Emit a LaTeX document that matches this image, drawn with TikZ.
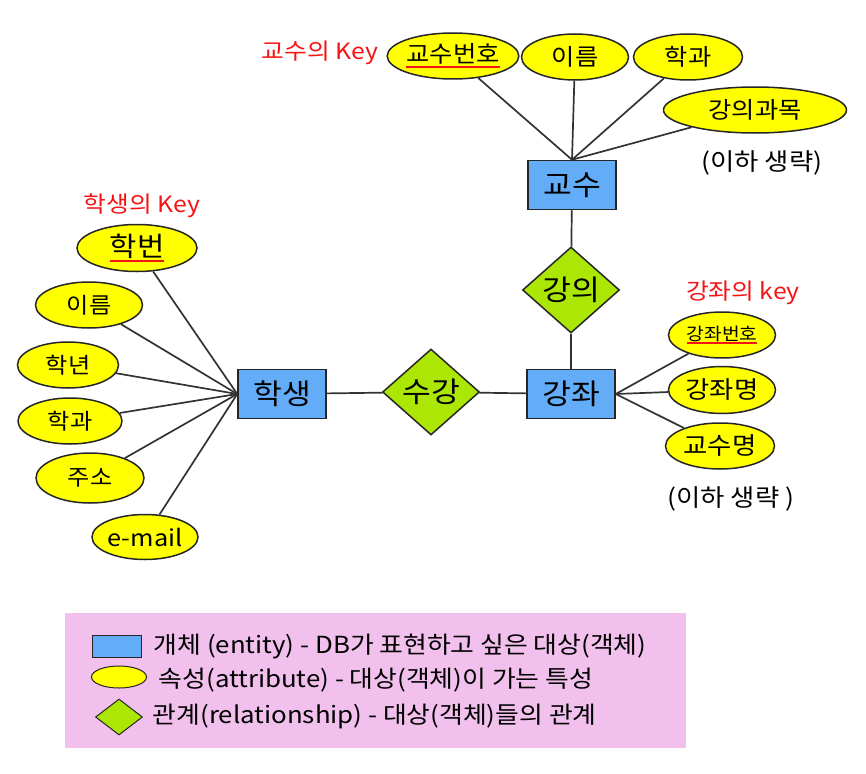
\documentclass[tikz,border=0pt]{standalone}
\usepackage{fontspec}
\setmainfont{Noto Sans CJK KR}[FakeStretch=1.1]
\usetikzlibrary{shapes.geometric}
\definecolor{entblue}{RGB}{98,172,248}
\definecolor{attyellow}{RGB}{255,255,0}
\definecolor{relgreen}{RGB}{172,230,4}
\definecolor{keyred}{RGB}{245,20,20}
\definecolor{legpink}{RGB}{242,192,236}
\newcommand\keyul[2][-5pt]{\leavevmode\setbox0\hbox{#2}\rlap{\color{keyred}\rule[#1]{\wd0}{1.8pt}}\box0}
\newcommand\fsz[1]{\fontsize{#1}{#1}\selectfont}

\begin{document}
\begin{tikzpicture}[x=1pt, y=-1pt, line width=1.5pt,
    entity/.style={draw=black!85, fill=entblue, inner sep=0pt, minimum width=88pt, minimum height=49pt, font=\fsz{28.5}},
    attr/.style={ellipse, draw=black!85, fill=attyellow, inner sep=0pt, minimum width=107pt, minimum height=46pt, font=\fsz{23}},
    rel/.style={diamond, draw=black!85, fill=relgreen, inner sep=0pt, minimum width=97pt, minimum height=86pt, font=\fsz{28.5}},
    keynote/.style={text=keyred, font=\fsz{22.5}},
    note/.style={font=\fsz{24}},
    link/.style={draw=black!80, line width=1.7pt},
    legtext/.style={anchor=west, inner sep=0pt, font=\fsz{23.5}}]
  \useasboundingbox (0,0) rectangle (866,773);

  % entities and relationships
  \node[entity] (gyosu) at (572,185) {교수};
  \node[rel] (gangui) at (571,290) {강의};
  \node[entity] (gangjwa) at (571,394) {강좌};
  \node[rel] (sugang) at (431,392) {수강};
  \node[entity] (haksaeng) at (282,394) {학생};

  % professor attributes
  \node[attr, minimum width=121pt] (gnum) at (453,56) {\keyul{교수번호}};
  \node[attr] (gname) at (575,57) {이름};
  \node[attr, minimum width=109pt] (gdept) at (688,57) {학과};
  \node[attr, minimum width=183pt] (gsubj) at (755,110) {강의과목};
  \node[keynote] (gkey) at (320,53) {교수의 Key};
  \node[note] (gmore) at (762,163) {(이하 생략)};

  % student attributes
  \node[attr, minimum width=120pt, minimum height=47pt, font=\fsz{27}] (snum) at (137,248) {\keyul{학번}};
  \node[attr, font=\fsz{22}] (sname) at (89,305) {이름};
  \node[attr, minimum width=101pt, font=\fsz{22}] (syear) at (68,365) {학년};
  \node[attr, minimum width=104pt, font=\fsz{22}] (sdept) at (70,421) {학과};
  \node[attr, minimum width=108pt, minimum height=50pt, font=\fsz{22}] (saddr) at (90,478) {주소};
  \node[attr, minimum width=106pt, minimum height=45pt] (smail) at (145,537) {e-mail};
  \node[keynote] (skey) at (142,206) {학생의 Key};

  % course attributes
  \node[attr, font=\fsz{17.5}] (cnum) at (722,335) {\keyul[-4pt]{강좌번호}};
  \node[attr, minimum height=47pt, font=\fsz{24}] (cname) at (722,390) {강좌명};
  \node[attr, minimum width=109pt, font=\fsz{24}] (cprof) at (720,446) {교수명};
  \node[keynote] (ckey) at (743,293) {강좌의 key};
  \node[note] (cmore) at (731,499) {(이하 생략 )};

  % connectors
  \foreach \a in {gnum,gname,gdept,gsubj}
    \draw[link] (gyosu.north) -- (\a);
  \foreach \a in {snum,sname,syear,sdept,saddr,smail}
    \draw[link] (haksaeng.west) -- (\a);
  \foreach \a in {cnum,cname,cprof}
    \draw[link] (gangjwa.east) -- (\a);
  \draw[link] (gyosu) -- (gangui);
  \draw[link] (gangui) -- (gangjwa);
  \draw[link] (haksaeng) -- (sugang);
  \draw[link] (sugang) -- (gangjwa);

  % legend
  \fill[legpink] (65,613) rectangle (686,748);
  \node[entity, line width=1pt, minimum width=49pt, minimum height=22pt] (legent) at (117,646) {};
  \node[attr, line width=1pt, minimum width=55pt, minimum height=22pt] (legatt) at (119,677) {};
  \node[rel, line width=1pt, minimum width=47pt, minimum height=36pt] (legrel) at (119,717) {};
  \node[legtext] (legentt) at (153,647) {개체 (entity) - DB가 표현하고 싶은 대상(객체)};
  \node[legtext] (legattt) at (158,680) {속성(attribute) - 대상(객체)이 가는 특성};
  \node[legtext] (legrelt) at (152,716) {관계(relationship) - 대상(객체)들의 관계};
\end{tikzpicture}
\end{document}
